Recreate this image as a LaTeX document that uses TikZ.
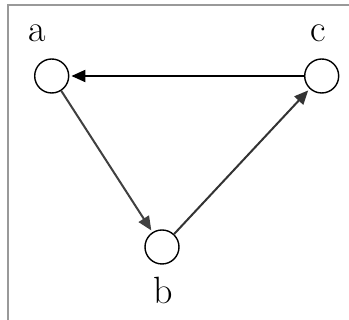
\documentclass[tikz,border=0pt]{standalone}
\usetikzlibrary{arrows.meta}
\begin{document}
\begin{tikzpicture}[x=1pt,y=1pt,
  vertex/.style={circle,draw=black,line width=1.4pt,minimum size=34pt,inner sep=0pt,fill=white},
  lbl/.style={font=\fontsize{38}{44}\selectfont},
  edge/.style={line width=2pt,-{Triangle[length=14pt,width=12pt]},shorten >=2pt}]
\useasboundingbox (0,0) rectangle (349,320);
\fill[white] (0,0) rectangle (349,320);
\draw[gray!80,line width=2pt] (8,-10) -- (8,315) -- (360,315);
\node[vertex] (a) at (51.7,244) {};
\node[vertex] (c) at (321.7,244) {};
\node[vertex] (b) at (162,73) {};
\node[lbl] (la) at (37,287) {a};
\node[lbl] (lc) at (318,287) {c};
\node[lbl] (lb) at (163,30) {b};
\draw[edge,black] (c) -- (a);
\draw[edge,black!75] (a) -- (b);
\draw[edge,black!80] (b) -- (c);
\end{tikzpicture}
\end{document}
